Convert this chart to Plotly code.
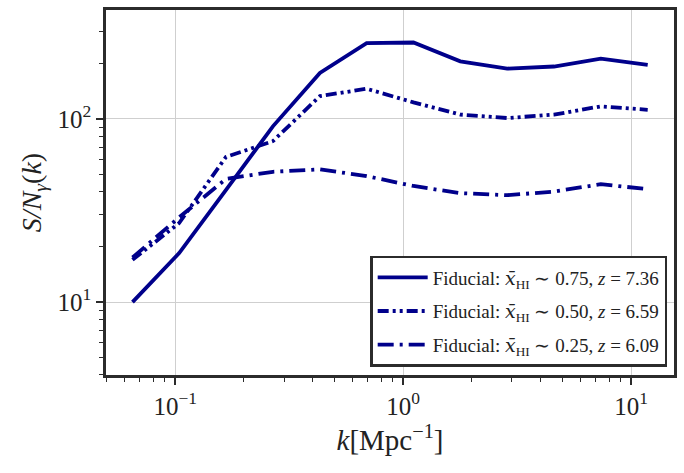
import plotly.graph_objects as go

# k bins [Mpc^-1], shared by all three curves
k = [0.0649, 0.104, 0.167, 0.268, 0.431, 0.691, 1.109, 1.78, 2.858, 4.587, 7.36, 11.82]

# S/N per k-bin for each reionization state
sn_075 = [10.0, 18.5, 41.0, 91.0, 178, 259, 261, 206, 188, 193, 213, 197]
sn_050 = [17.0, 27.0, 62.0, 75.5, 133, 146, 123, 105.5, 101, 105.5, 117, 112]
sn_025 = [17.5, 29.0, 47.0, 51.4, 53.0, 48.7, 43.0, 39.3, 38.3, 40.1, 44.0, 41.3]

xbar = '<span style="font-family:DejaVu Serif;font-style:italic">x̄</span>'
labels = [
    f"Fiducial: {xbar}<sub>HI</sub> ∼ 0.75, <i>z</i> = 7.36",
    f"Fiducial: {xbar}<sub>HI</sub> ∼ 0.50, <i>z</i> = 6.59",
    f"Fiducial: {xbar}<sub>HI</sub> ∼ 0.25, <i>z</i> = 6.09",
]
dashes = ["solid", "11px,4px,3px,4px,3px,4px", "16px,6px,3px,6px"]

line_color = "#00008B"
spine = "#2b2b2b"
serif = "Liberation Serif, Times New Roman, serif"

fig = go.Figure()
for i, (y, name, dash) in enumerate(zip([sn_075, sn_050, sn_025], labels, dashes)):
    fig.add_trace(go.Scatter(
        x=k, y=y, mode="lines", name=name, legendgroup=f"g{i}",
        line=dict(color=line_color, width=3.8, dash=dash),
    ))

# minor tick positions (2..9 times each decade)
x_minor = [m * 10.0 ** e for e in (-2, -1, 0, 1) for m in range(2, 10)]
y_minor = [m * 10.0 ** e for e in (0, 1, 2) for m in range(2, 10)]

axis_common = dict(
    type="log", showline=True, linecolor=spine, linewidth=2.5, mirror=True,
    ticks="outside", ticklen=7, tickwidth=1.5, tickcolor=spine,
    showgrid=True, gridcolor="#cfcfcf", gridwidth=1, zeroline=False,
    automargin=False,
    tickfont=dict(family=serif, size=25, color="#222"),
)

fig.update_xaxes(
    **axis_common,
    range=[-1.304, 1.188],
    tickvals=[0.1, 1, 10],
    ticktext=["10<sup>−1</sup>", "10<sup>0</sup>", "10<sup>1</sup>"],
    minor=dict(tickvals=x_minor, ticks="outside", ticklen=4, tickwidth=1.2,
               tickcolor=spine, showgrid=False),
    title=dict(text="<i>k</i>[Mpc<sup>−1</sup>]",
               font=dict(family=serif, size=29, color="#222"), standoff=4),
)
fig.update_yaxes(
    **axis_common,
    range=[0.602, 2.594],
    tickvals=[10, 100],
    ticktext=["10<sup>1</sup>", "10<sup>2</sup>"],
    minor=dict(tickvals=y_minor, ticks="outside", ticklen=4, tickwidth=1.2,
               tickcolor=spine, showgrid=False),
    title=dict(text="<i>S/N<sub>γ</sub></i>(<i>k</i>)",
               font=dict(family=serif, size=28, color="#222"), standoff=8),
)

fig.update_layout(
    width=684, height=473,
    margin=dict(l=106, r=10, t=10, b=98),
    plot_bgcolor="white", paper_bgcolor="white",
    showlegend=True,
    legend=dict(
        x=0.988, y=0.022, xanchor="right", yanchor="bottom",
        bgcolor="white", bordercolor=spine, borderwidth=2.5,
        font=dict(family=serif, size=19, color="#222"),
        tracegroupgap=6, itemwidth=50,
    ),
)

# drop the browser's default 8px body margin so the figure sits at (0, 0)
fig.write_html("out.html", config={"displayModeBar": False},
               post_script="document.body.style.margin='0';")
